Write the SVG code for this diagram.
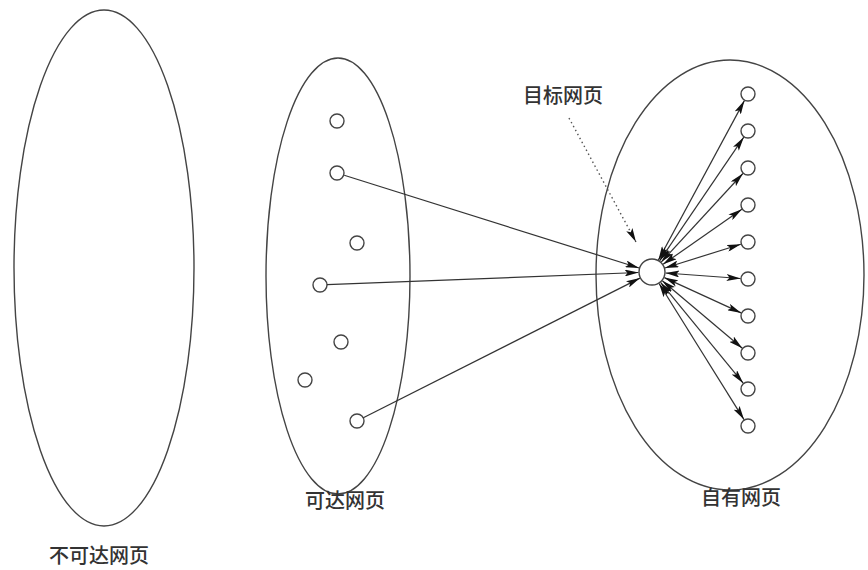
<svg xmlns="http://www.w3.org/2000/svg" width="868" height="570" viewBox="0 0 868 570">
<style>
.ell{fill:none;stroke:#444;stroke-width:1.4}
.node{fill:#fff;stroke:#444;stroke-width:1.4}
.edge{stroke:#333;stroke-width:1.2;fill:none}
.dot{stroke:#555;stroke-width:1.4;fill:none;stroke-dasharray:1.5 3}
.lbl{font-family:"Noto Sans CJK SC","Noto Sans",sans-serif;font-size:20px;font-weight:500;fill:#333;text-anchor:middle}
</style>
<defs>
<marker id="ah" viewBox="0 0 14 7" refX="14" refY="3.5" markerWidth="14" markerHeight="7" markerUnits="userSpaceOnUse" orient="auto-start-reverse">
<path d="M0,0 L14,3.5 L0,7 L3,3.5 Z" fill="#111"/>
</marker>
</defs>
<rect width="868" height="570" fill="#fff"/>
<g id="unreachable">
<ellipse class="ell" cx="104" cy="268" rx="90" ry="258"/>
<text class="lbl" x="99" y="563">不可达网页</text>
</g>
<g id="reachable">
<ellipse class="ell" cx="338" cy="276" rx="72" ry="218"/>
<text class="lbl" x="345" y="508">可达网页</text>
</g>
<g id="own">
<ellipse class="ell" cx="730" cy="275" rx="134" ry="215"/>
<text class="lbl" x="741" y="505">自有网页</text>
</g>
<g id="target-label">
<text class="lbl" x="563" y="103">目标网页</text>
</g>
<g id="reachable-nodes">
<circle class="node" cx="337" cy="121" r="7"/>
<circle class="node" cx="337" cy="173" r="7"/>
<circle class="node" cx="357" cy="243" r="7"/>
<circle class="node" cx="320" cy="285" r="7"/>
<circle class="node" cx="341" cy="342" r="7"/>
<circle class="node" cx="305" cy="380" r="7"/>
<circle class="node" cx="357" cy="421" r="7"/>
</g>
<g id="own-nodes">
<circle class="node" cx="748" cy="94" r="7"/>
<circle class="node" cx="748" cy="131" r="7"/>
<circle class="node" cx="748" cy="168" r="7"/>
<circle class="node" cx="748" cy="205" r="7"/>
<circle class="node" cx="748" cy="242" r="7"/>
<circle class="node" cx="748" cy="279" r="7"/>
<circle class="node" cx="748" cy="316" r="7"/>
<circle class="node" cx="748" cy="353" r="7"/>
<circle class="node" cx="748" cy="389" r="7"/>
<circle class="node" cx="748" cy="426" r="7"/>
</g>
<g id="connectors">
<line class="edge" x1="344.2" y1="175.3" x2="639.1" y2="268" marker-end="url(#ah)"/>
<line class="edge" x1="327" y1="284.7" x2="638.5" y2="272.5" marker-end="url(#ah)"/>
<line class="edge" x1="363.3" y1="417.8" x2="640" y2="278.1" marker-end="url(#ah)"/>
<line class="edge" x1="658.4" y1="260.1" x2="744.4" y2="100.6" marker-start="url(#ah)" marker-end="url(#ah)"/>
<line class="edge" x1="659.6" y1="260.8" x2="743.8" y2="137.2" marker-start="url(#ah)" marker-end="url(#ah)"/>
<line class="edge" x1="661.2" y1="262.1" x2="742.9" y2="173.5" marker-start="url(#ah)" marker-end="url(#ah)"/>
<line class="edge" x1="663.1" y1="264.3" x2="741.9" y2="209.3" marker-start="url(#ah)" marker-end="url(#ah)"/>
<line class="edge" x1="664.9" y1="268" x2="740.8" y2="244.2" marker-start="url(#ah)" marker-end="url(#ah)"/>
<line class="edge" x1="665.5" y1="273" x2="740.5" y2="278.5" marker-start="url(#ah)" marker-end="url(#ah)"/>
<line class="edge" x1="664.3" y1="277.6" x2="741.2" y2="312.9" marker-start="url(#ah)" marker-end="url(#ah)"/>
<line class="edge" x1="662.3" y1="280.7" x2="742.3" y2="348.2" marker-start="url(#ah)" marker-end="url(#ah)"/>
<line class="edge" x1="660.6" y1="282.4" x2="743.2" y2="383.2" marker-start="url(#ah)" marker-end="url(#ah)"/>
<line class="edge" x1="659.1" y1="283.5" x2="744" y2="419.6" marker-start="url(#ah)" marker-end="url(#ah)"/>
<line class="dot" x1="569" y1="118" x2="636" y2="242" marker-end="url(#ah)"/>
</g>
<g id="target">
<circle class="node" cx="652" cy="272" r="13"/>
</g>
</svg>
